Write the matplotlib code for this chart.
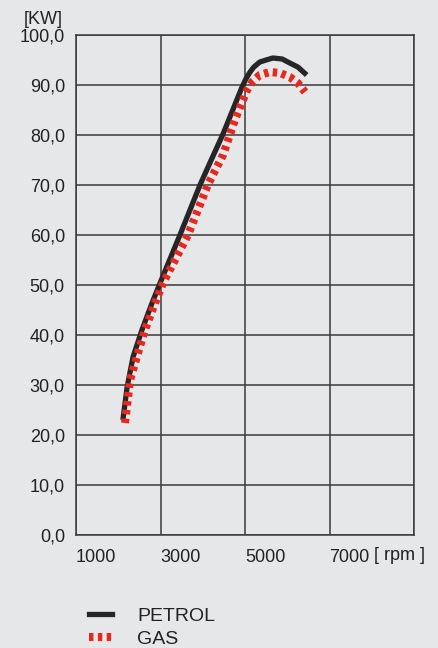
import matplotlib.pyplot as plt
from matplotlib.lines import Line2D

# Engine power curves
petrol_rpm = [2110, 2210, 2350, 2560, 2800, 2990, 3460, 3935, 4200, 4480, 4930, 5020, 5120,
              5210, 5350, 5500, 5660, 5880, 6060, 6250, 6460]
petrol_kw = [23.0, 29.6, 35.6, 41.0, 46.4, 50.4, 60.0, 70.0, 75.0, 80.2, 89.6, 91.2, 92.6,
             93.6, 94.6, 95.0, 95.4, 95.2, 94.4, 93.6, 92.0]

gas_rpm = [2160, 2280, 2440, 2630, 2870, 3060, 3650, 4120, 4480, 4760, 5050, 5170, 5350,
           5590, 5830, 6060, 6250, 6420]
gas_kw = [22.4, 31.0, 35.6, 41.0, 46.4, 50.4, 60.0, 70.0, 76.0, 83.0, 89.0, 90.6, 92.0,
          92.6, 92.4, 91.6, 90.4, 88.6]

x_ticks = [1000, 3000, 5000, 7000]
y_ticks = [0, 10, 20, 30, 40, 50, 60, 70, 80, 90, 100]

bg = '#e6e7e9'
grid_col = '#3a3a3a'
font = 'Liberation Sans'

fig = plt.figure(figsize=(4.38, 6.48), dpi=100, facecolor=bg)
ax = fig.add_axes([76 / 438, 1 - 535 / 648, 338 / 438, 500 / 648])
ax.set_facecolor(bg)

ax.set_xlim(1000, 9000)
ax.set_ylim(0, 100)
ax.set_xticks([1000, 3000, 5000, 7000, 9000])
ax.set_yticks(y_ticks)
ax.grid(True, color=grid_col, linewidth=1.1)
for s in ax.spines.values():
    s.set_color(grid_col)
    s.set_linewidth(1.1)
ax.tick_params(length=0, pad=8, labelsize=13, labelcolor='#222222')

ax.set_yticklabels([f'{v:.1f}'.replace('.', ',') for v in y_ticks], fontfamily=font)
ax.set_xticklabels([str(v) for v in x_ticks] + [''], fontfamily=font, ha='left')
ax.tick_params(axis='x', pad=10)

ax.plot(petrol_rpm, petrol_kw, color='#262626', linewidth=3.8,
        solid_capstyle='butt', solid_joinstyle='round', zorder=3)
ax.plot(gas_rpm, gas_kw, color='#e8281e', linewidth=5.8,
        linestyle=(0, (0.55, 0.55)), dash_capstyle='butt', zorder=4)

fig.text(63 / 438, 1 - 20 / 648, '[KW]', ha='right', va='center',
         fontsize=13, fontfamily=font, color='#222222')
fig.text(400 / 438, 1 - 555 / 648, '[ rpm ]', ha='center', va='center',
         fontsize=13, fontfamily=font, color='#222222')

handles = [Line2D([], [], color='#262626', linewidth=3.8),
           Line2D([], [], color='#e8281e', linewidth=5.8, linestyle=(0, (0.55, 0.55)))]
leg = fig.legend(handles, ['PETROL', 'GAS'], loc='upper left',
                 bbox_to_anchor=(71 / 438, 1 - 590 / 648), frameon=False,
                 handlelength=1.2, handletextpad=1.3, labelspacing=0.25,
                 prop={'family': font, 'size': 14})
for t in leg.get_texts():
    t.set_color('#222222')

fig.savefig('out.png', dpi=100, facecolor=bg)
